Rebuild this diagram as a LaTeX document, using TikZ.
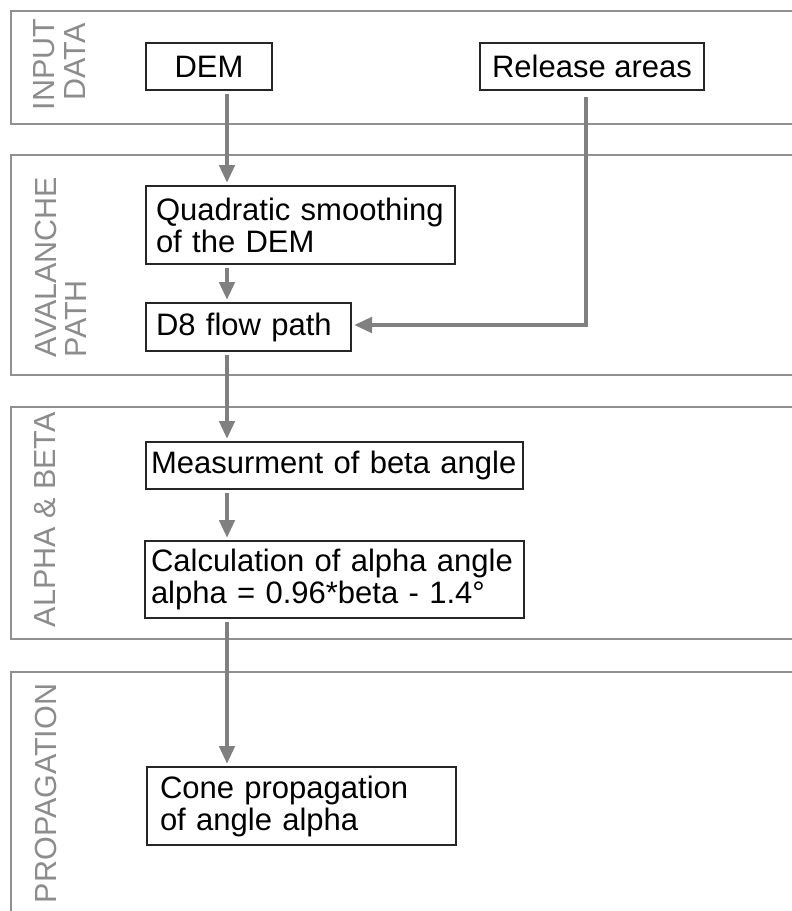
\documentclass[tikz,border=0pt]{standalone}
\usepackage{fontspec}
\setmainfont{Liberation Sans}
\usetikzlibrary{arrows.meta}
\definecolor{framec}{HTML}{909090}
\definecolor{labelc}{HTML}{8C8C8C}
\definecolor{arrc}{HTML}{808080}
\definecolor{boxc}{HTML}{262626}
\begin{document}
\begin{tikzpicture}[x=1pt,y=-1pt,
 frame/.style={draw=framec,line width=2pt},
 seclabel/.style={rotate=90,text=labelc,font=\fontsize{30.5}{31}\selectfont,inner sep=0pt,outer sep=0pt},
 box/.style={draw=boxc,line width=1.5pt,outer sep=0pt,inner ysep=0pt,anchor=north west,font=\fontsize{31}{32}\selectfont},
 cbox/.style={box,align=center},
 lbox/.style={box,align=left},
 arr/.style={draw=arrc,line width=4.5pt,-{Triangle[width=15pt,length=18pt]},shorten <=4pt,shorten >=3pt}
]
\clip (0,0) rectangle (792,911);
\fill[white] (0,0) rectangle (792,911);
% section frames
\draw[frame] (11,11) rectangle (810,124);
\draw[frame] (11,155) rectangle (810,375);
\draw[frame] (11,407) rectangle (810,639);
\draw[frame] (11,672) rectangle (810,930);
% section labels
\node[seclabel,anchor=base] (lin1) at (54,64.5) {INPUT};
\node[seclabel,anchor=base] (lin2) at (85,62) {DATA};
\node[seclabel,anchor=base west] (lav1) at (56,357) {AVALANCHE};
\node[seclabel,anchor=base west] (lav2) at (86,357) {PATH};
\node[seclabel,anchor=base west] (lab) at (55,627) {ALPHA \& BETA};
\node[seclabel,anchor=base west] (lpr) at (56,903) {PROPAGATION};
% boxes
\node[cbox,minimum width=126pt,minimum height=47pt] (dem) at (146,43) {DEM};
\node[cbox,minimum width=224pt,minimum height=47pt] (rel) at (480,43) {Release areas};
\node[lbox,inner xsep=10pt,text width=289pt,minimum height=78pt] (quad) at (146,186) {Quadratic smoothing\\of the DEM};
\node[lbox,inner xsep=10pt,text width=185pt,minimum height=48pt] (d8) at (146,303) {D8 flow path};
\node[lbox,inner xsep=5pt,text width=367pt,minimum height=47pt] (meas) at (146,442) {Measurment of beta angle};
\node[lbox,inner xsep=6pt,text width=367pt,minimum height=77pt] (calc) at (145,541) {Calculation of alpha angle\\alpha = 0.96*beta - 1.4°};
\node[lbox,inner xsep=13pt,text width=283pt,minimum height=78pt] (cone) at (147,767) {Cone propagation\\of angle alpha};
% connectors
\coordinate (ax) at (227,0);
\coordinate (rturn) at (586,325);
\draw[arr] (dem.south -| ax) -- (quad.north -| ax);
\draw[arr] (quad.south -| ax) -- (d8.north -| ax);
\draw[arr] (d8.south -| ax) -- (meas.north -| ax);
\draw[arr] (meas.south -| ax) -- (calc.north -| ax);
\draw[arr] (calc.south -| ax) -- (cone.north -| ax);
\draw[arr,shorten <=7pt] (rel.south -| rturn) -- (rturn) -- (d8.east |- rturn);
\end{tikzpicture}
\end{document}
